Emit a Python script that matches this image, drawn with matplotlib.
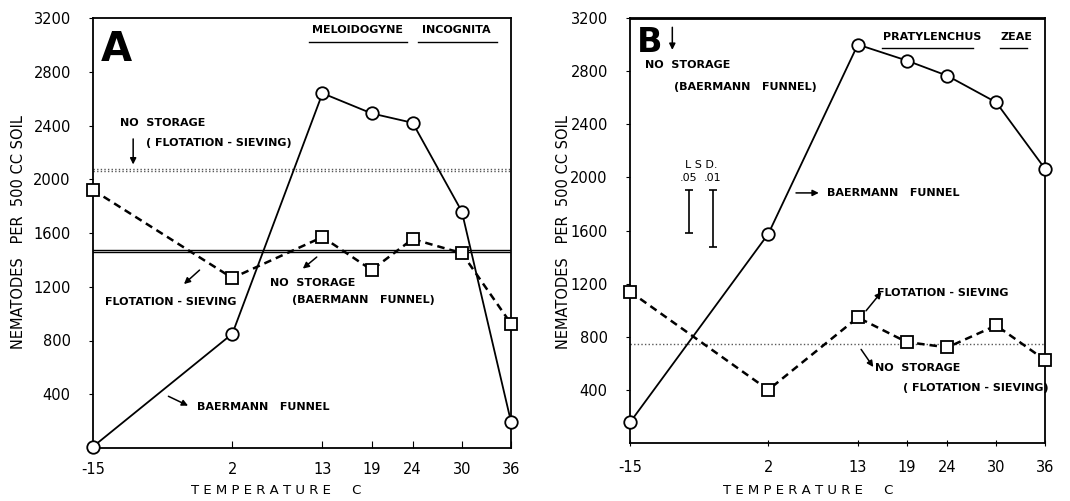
import matplotlib.pyplot as plt

# temperatures (C)
temps = [-15, 2, 13, 19, 24, 30, 36]
temp_labels = ["-15", "2", "13", "19", "24", "30", "36"]
y_ticks = [400, 800, 1200, 1600, 2000, 2400, 2800, 3200]

# panel A - Meloidogyne incognita
a_baermann = [10, 850, 2640, 2490, 2420, 1760, 195]
a_flotation = [1920, 1265, 1570, 1325, 1555, 1450, 925]
a_nostore_flot = 2070
a_nostore_baer = 1468

# panel B - Pratylenchus zeae
b_baermann = [155, 1575, 3000, 2880, 2765, 2565, 2065]
b_flotation = [1140, 400, 945, 760, 720, 885, 625]
b_nostore_flot = 745
b_nostore_baer = 3190
lsd_top = 1905
lsd_vals = [325, 430]      # .05, .01
lsd_names = [".05", ".01"]

FONT = "DejaVu Sans"
lab = dict(fontsize=8, fontweight="bold", family=FONT, va="center", ha="left")
dotted = dict(color="0.35", lw=1.0, linestyle=(0, (1, 1.6)))


def arrow(ax, tail, head):
    ax.annotate("", xy=head, xytext=tail,
                arrowprops=dict(arrowstyle="-|>", color="black", lw=1.1,
                                mutation_scale=9, shrinkA=0, shrinkB=0))


def setup(ax, xdir):
    ax.set_xlim(-15, 36)
    ax.set_ylim(0, 3200)
    ax.set_xticks(temps)
    ax.set_xticklabels(temp_labels)
    ax.set_yticks(y_ticks)
    ax.set_yticklabels([str(v) for v in y_ticks])
    ax.tick_params(axis="x", direction=xdir, length=5, width=0.8, labelsize=10.5, pad=10)
    ax.tick_params(axis="y", direction="out", length=3, width=0.8, labelsize=10.5, pad=13)
    for sp in ax.spines.values():
        sp.set_linewidth(1.3)


fig = plt.figure(figsize=(10.70, 5.01), dpi=100)
axA = fig.add_axes([93 / 1070, 53 / 501, 418 / 1070, 430 / 501])
axB = fig.add_axes([630 / 1070, 58 / 501, 415 / 1070, 425 / 501])

# ---------------- panel A ----------------
setup(axA, "in")
axA.axhline(a_nostore_flot - 10, **dotted)
axA.axhline(a_nostore_flot + 10, **dotted)
axA.axhline(a_nostore_baer - 8, color="black", lw=1.0)
axA.axhline(a_nostore_baer + 8, color="black", lw=1.0)
axA.plot(temps, a_baermann, color="black", lw=1.3, marker="o", ms=9,
         mfc="white", mec="black", mew=1.3, clip_on=False, zorder=5)
axA.plot(temps, a_flotation, color="black", lw=1.8, linestyle=(0, (3, 2)),
         marker="s", ms=9, mfc="white", mec="black", mew=1.3, clip_on=False, zorder=5)

axA.text(-14.0, 2880, "A", fontsize=29, fontweight="heavy", family=FONT,
         va="baseline", ha="left")
axA.text(11.7, 3110, "MELOIDOGYNE", **lab)
axA.text(25.1, 3110, "INCOGNITA", **lab)
axA.plot([11.4, 23.3], [3020, 3020], color="black", lw=1.0)
axA.plot([24.6, 34.3], [3020, 3020], color="black", lw=1.0)
axA.text(-11.7, 2418, "NO  STORAGE", **lab)
axA.text(-8.5, 2270, "( FLOTATION - SIEVING)", **lab)
arrow(axA, (-10.1, 2300), (-10.1, 2110))
axA.text(-13.5, 1086, "FLOTATION - SIEVING", **lab)
arrow(axA, (-2.0, 1324), (-3.9, 1220))
axA.text(6.6, 1228, "NO  STORAGE", **lab)
axA.text(9.3, 1101, "(BAERMANN   FUNNEL)", **lab)
arrow(axA, (12.3, 1421), (10.6, 1335))
axA.text(-2.3, 305, "BAERMANN   FUNNEL", **lab)
arrow(axA, (-5.8, 385), (-3.4, 315))

# ---------------- panel B ----------------
setup(axB, "inout")
axB.axhline(b_nostore_flot, **dotted)
axB.axhline(b_nostore_baer, color="black", lw=1.3)
axB.plot(temps, b_baermann, color="black", lw=1.3, marker="o", ms=9,
         mfc="white", mec="black", mew=1.3, clip_on=False, zorder=5)
axB.plot(temps, b_flotation, color="black", lw=1.8, linestyle=(0, (3, 2)),
         marker="s", ms=9, mfc="white", mec="black", mew=1.3, clip_on=False, zorder=5)

axB.text(-14.2, 2945, "B", fontsize=24, fontweight="heavy", family=FONT,
         va="baseline", ha="left")
arrow(axB, (-9.8, 3130), (-9.8, 2960))
axB.text(-13.2, 2846, "NO  STORAGE", **lab)
axB.text(-9.6, 2681, "(BAERMANN   FUNNEL)", **lab)
axB.text(16.1, 3058, "PRATYLENCHUS", **lab)
axB.text(30.5, 3058, "ZEAE", **lab)
axB.plot([16.0, 27.1], [2975, 2975], color="black", lw=1.0)
axB.plot([30.5, 33.8], [2975, 2975], color="black", lw=1.0)

lsd_x = [-7.75, -4.8]
for xv, v, nm in zip(lsd_x, lsd_vals, lsd_names):
    axB.errorbar([xv], [lsd_top - v / 2], yerr=[v / 2], fmt="none",
                 ecolor="black", elinewidth=1.2, capsize=3, capthick=1.2)
    axB.text(xv, 1995, nm, fontsize=8, family=FONT, ha="center", va="center")
axB.text(-6.3, 2093, "L S D.", fontsize=8, family=FONT, ha="center", va="center")

axB.text(9.2, 1883, "BAERMANN   FUNNEL", **lab)
arrow(axB, (5.4, 1883), (8.2, 1883))
axB.text(15.3, 1130, "FLOTATION - SIEVING", **lab)
arrow(axB, (14.0, 995), (15.9, 1137))
axB.text(15.1, 566, "NO  STORAGE", **lab)
axB.text(18.5, 414, "( FLOTATION - SIEVING)", **lab)
arrow(axB, (13.4, 705), (14.9, 572))

# axis titles
for xc in (276 / 1070, 808 / 1070):
    fig.text(xc, 11 / 501, "T E M P E R A T U R E     C", fontsize=9.5,
             family=FONT, ha="center", va="center")
for xc in (19 / 1070, 563 / 1070):
    fig.text(xc, 269 / 501, "NEMATODES   PER  500 CC SOIL", fontsize=10.5,
             family=FONT, rotation=90, ha="center", va="center")

fig.savefig("out.png", dpi=100)
